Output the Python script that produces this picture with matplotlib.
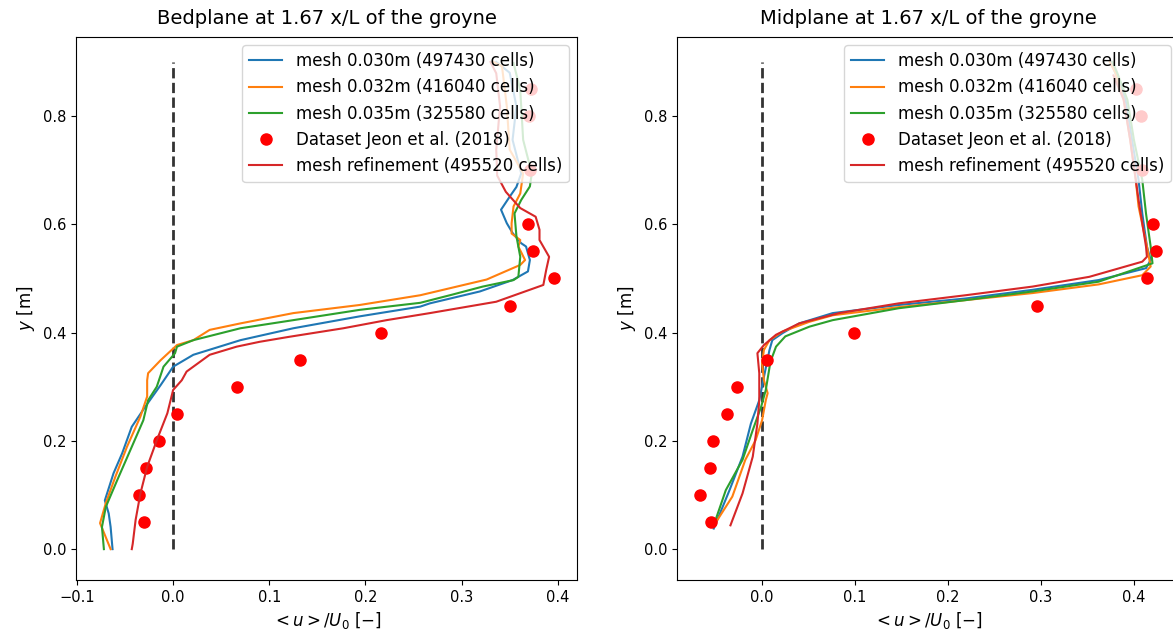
import matplotlib.pyplot as plt

# Measured velocity profiles at x/L = 1.67 (u/U0 against height y in m)
jeon_y = [0.05, 0.10, 0.15, 0.20, 0.25, 0.30, 0.35, 0.40, 0.45, 0.50, 0.55, 0.60, 0.70, 0.80, 0.85]
jeon_bed = [-0.030, -0.036, -0.028, -0.015, 0.004, 0.066, 0.132, 0.216, 0.350, 0.396, 0.374, 0.369, 0.371, 0.370, 0.372]
jeon_mid = [-0.055, -0.067, -0.056, -0.053, -0.038, -0.027, 0.005, 0.099, 0.296, 0.414, 0.424, 0.420, 0.409, 0.408, 0.402]

# Bedplane
bed_030_y = [0.0, 0.041, 0.066, 0.09, 0.14, 0.177, 0.226, 0.263, 0.303, 0.337, 0.359, 0.386, 0.408, 0.430, 0.448,
             0.454, 0.476, 0.497, 0.513, 0.534, 0.559, 0.565, 0.584, 0.602, 0.627, 0.651, 0.669, 0.694, 0.756,
             0.818, 0.88, 0.9]
bed_030_u = [-0.063, -0.065, -0.067, -0.071, -0.062, -0.053, -0.043, -0.029, -0.013, 0.000, 0.021, 0.070, 0.125,
             0.194, 0.257, 0.267, 0.319, 0.353, 0.369, 0.371, 0.367, 0.362, 0.353, 0.347, 0.341, 0.350, 0.357,
             0.362, 0.353, 0.357, 0.350, 0.336]
bed_032_y = [0.0, 0.048, 0.085, 0.134, 0.189, 0.245, 0.282, 0.312, 0.325, 0.349, 0.377, 0.386, 0.405, 0.417,
             0.436, 0.451, 0.469, 0.498, 0.525, 0.534, 0.559, 0.571, 0.583, 0.602, 0.633, 0.657, 0.694, 0.738,
             0.818, 0.892, 0.9]
bed_032_u = [-0.065, -0.076, -0.070, -0.060, -0.048, -0.034, -0.027, -0.027, -0.026, -0.013, 0.004, 0.021, 0.038,
             0.070, 0.125, 0.194, 0.257, 0.326, 0.361, 0.366, 0.359, 0.361, 0.352, 0.352, 0.354, 0.361, 0.364,
             0.350, 0.347, 0.342, 0.333]
bed_035_y = [0.0, 0.041, 0.078, 0.128, 0.189, 0.238, 0.275, 0.300, 0.337, 0.362, 0.374, 0.386, 0.408, 0.423,
             0.442, 0.455, 0.470, 0.485, 0.497, 0.503, 0.540, 0.578, 0.620, 0.645, 0.670, 0.694, 0.756, 0.848, 0.898]
bed_035_u = [-0.072, -0.074, -0.070, -0.058, -0.043, -0.031, -0.026, -0.017, -0.010, 0.002, 0.004, 0.021, 0.070,
             0.125, 0.194, 0.257, 0.290, 0.322, 0.354, 0.359, 0.361, 0.357, 0.355, 0.362, 0.371, 0.373, 0.364,
             0.361, 0.354]
bed_ref_y = [0.0, 0.01, 0.054, 0.103, 0.152, 0.201, 0.251, 0.294, 0.312, 0.328, 0.359, 0.374, 0.383, 0.392, 0.408,
             0.423, 0.436, 0.457, 0.488, 0.516, 0.540, 0.571, 0.590, 0.614, 0.630, 0.660, 0.690, 0.738, 0.818,
             0.879, 0.9]
bed_ref_u = [-0.043, -0.042, -0.039, -0.034, -0.027, -0.017, -0.006, 0.000, 0.009, 0.014, 0.038, 0.066, 0.090,
             0.120, 0.177, 0.222, 0.267, 0.336, 0.385, 0.388, 0.391, 0.381, 0.381, 0.377, 0.361, 0.346, 0.337,
             0.336, 0.340, 0.336, 0.330]

# Midplane
mid_030_y = [0.038, 0.109, 0.171, 0.232, 0.275, 0.318, 0.368, 0.386, 0.399, 0.417, 0.436, 0.451, 0.463, 0.479,
             0.497, 0.519, 0.534, 0.559, 0.620, 0.682, 0.756, 0.830, 0.88, 0.9]
mid_030_u = [-0.052, -0.035, -0.021, -0.012, -0.003, 0.002, 0.008, 0.011, 0.022, 0.040, 0.076, 0.147, 0.219,
             0.291, 0.362, 0.413, 0.418, 0.414, 0.409, 0.405, 0.398, 0.391, 0.380, 0.375]
mid_032_y = [0.054, 0.097, 0.165, 0.201, 0.238, 0.275, 0.288, 0.312, 0.343, 0.368, 0.386, 0.402, 0.420, 0.432,
             0.447, 0.460, 0.473, 0.489, 0.506, 0.522, 0.559, 0.633, 0.682, 0.756, 0.830, 0.88, 0.9]
mid_032_u = [-0.048, -0.032, -0.018, -0.007, 0.000, 0.004, 0.006, 0.002, 0.000, 0.002, 0.008, 0.022, 0.051,
             0.076, 0.147, 0.219, 0.291, 0.362, 0.409, 0.418, 0.414, 0.405, 0.402, 0.396, 0.389, 0.380, 0.374]
mid_035_y = [0.044, 0.109, 0.165, 0.220, 0.263, 0.294, 0.346, 0.374, 0.393, 0.411, 0.423, 0.445, 0.460, 0.476,
             0.494, 0.528, 0.559, 0.620, 0.682, 0.756, 0.830, 0.88, 0.9]
mid_035_u = [-0.052, -0.039, -0.021, -0.010, -0.001, 0.004, 0.009, 0.015, 0.025, 0.051, 0.076, 0.147, 0.219,
             0.291, 0.362, 0.420, 0.418, 0.413, 0.409, 0.400, 0.393, 0.382, 0.377]
mid_ref_y = [0.044, 0.103, 0.171, 0.232, 0.275, 0.325, 0.362, 0.377, 0.396, 0.417, 0.436, 0.454, 0.469, 0.485,
             0.503, 0.531, 0.540, 0.559, 0.602, 0.645, 0.682, 0.756, 0.830, 0.875]
mid_ref_u = [-0.034, -0.021, -0.010, -0.005, -0.003, -0.003, -0.005, 0.002, 0.015, 0.040, 0.083, 0.147, 0.219,
             0.291, 0.352, 0.409, 0.414, 0.413, 0.409, 0.405, 0.402, 0.396, 0.389, 0.378]


def plot_profile(ax, title, u030, y030, u032, y032, u035, y035, jeon, uref, yref, xlim):
    ax.plot([0, 0], [0, 0.9], 'k--', lw=2, alpha=0.8)
    ax.plot(u030, y030, label='mesh 0.030m (497430 cells)')
    ax.plot(u032, y032, label='mesh 0.032m (416040 cells)')
    ax.plot(u035, y035, label='mesh 0.035m (325580 cells)')
    ax.plot(jeon, jeon_y, 'ro', markersize=8, label='Dataset Jeon et al. (2018)')
    ax.plot(uref, yref, color='tab:red', label='mesh refinement (495520 cells)')
    ax.set_xlim(xlim)
    ax.set_ylim(-0.057, 0.946)
    ax.set_xlabel(r'$<u>/U_0\ [-]$', fontsize=12)
    ax.set_ylabel(r'$y$ [m]', fontsize=12)
    ax.set_title(title, fontsize=14, pad=9)
    ax.tick_params(labelsize=10.5)
    ax.legend(loc='upper right', fontsize=12)


fig = plt.figure(figsize=(11.73, 6.32), dpi=100)
ax1 = fig.add_axes([76 / 1173, 52 / 632, 501 / 1173, 543 / 632])
ax2 = fig.add_axes([677 / 1173, 52 / 632, 502 / 1173, 543 / 632])

plot_profile(ax1, 'Bedplane at 1.67 x/L of the groyne', bed_030_u, bed_030_y, bed_032_u, bed_032_y,
             bed_035_u, bed_035_y, jeon_bed, bed_ref_u, bed_ref_y, (-0.101, 0.420))
plot_profile(ax2, 'Midplane at 1.67 x/L of the groyne', mid_030_u, mid_030_y, mid_032_u, mid_032_y,
             mid_035_u, mid_035_y, jeon_mid, mid_ref_u, mid_ref_y, (-0.0915, 0.4485))

fig.savefig('out.png', dpi=100)
